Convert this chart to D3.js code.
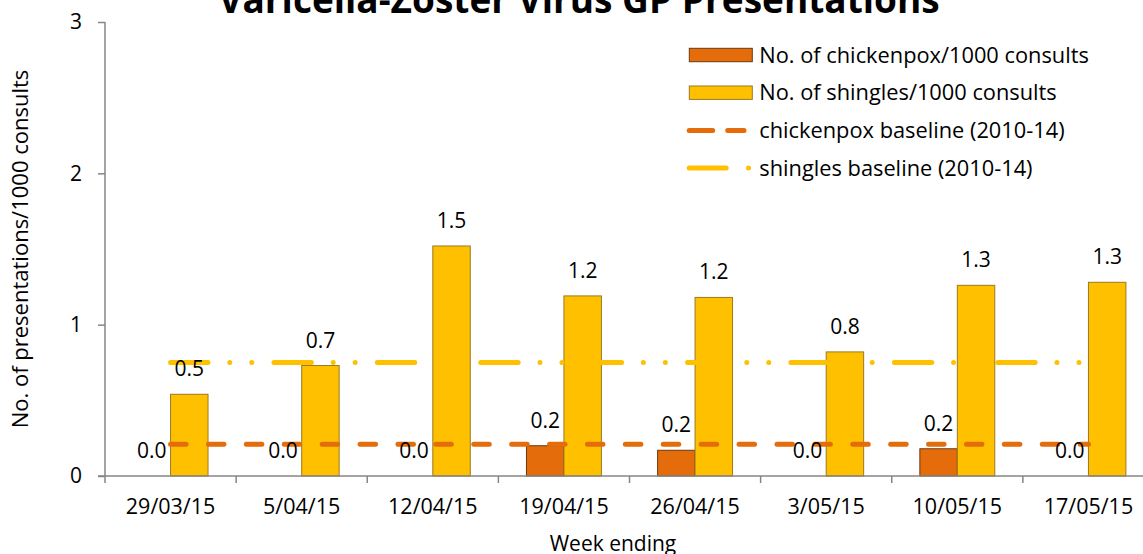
<!DOCTYPE html>
<html><head><meta charset="utf-8">
<script src="https://cdn.jsdelivr.net/npm/d3@7"></script>
<style>
html,body{margin:0;padding:0;background:#fff;overflow:hidden;}
svg{display:block;font-family:"Open Sans",sans-serif;}
</style></head>
<body>
<svg id="chart" width="1143" height="554"></svg>
<script>
const weeks = ["29/03/15","5/04/15","12/04/15","19/04/15","26/04/15","3/05/15","10/05/15","17/05/15"];
const chickenpox = [0, 0, 0, 0.2, 0.17, 0, 0.18, 0];
const shingles = [0.54, 0.73, 1.52, 1.19, 1.18, 0.82, 1.26, 1.28];
const chickenpoxBaseline = [0.21, 0.21, 0.21, 0.21, 0.21, 0.21, 0.21, 0.21];
const shinglesBaseline = [0.75, 0.75, 0.75, 0.75, 0.75, 0.75, 0.75, 0.75];
const yTicks = [0, 1, 2, 3];
const title = "Varicella-Zoster Virus GP Presentations";
const yTitle = "No. of presentations/1000 consults";
const xTitle = "Week ending";
const legendItems = ["No. of chickenpox/1000 consults","No. of shingles/1000 consults","chickenpox baseline (2010-14)","shingles baseline (2010-14)"];

const C_ORANGE = "#E46C0A", C_YELLOW = "#FFC000", AXIS = "#868686";
const svg = d3.select("#chart");

const x = d3.scaleBand().domain(weeks).range([105, 1154]).paddingInner(0).paddingOuter(0);
const y = d3.scaleLinear().domain([0, 3]).range([476, 22]);
const step = x.step();
const bw = step / 3.5;
const cx = d => x(d) + step / 2;

// title
svg.append("text").attr("x", 579).attr("y", 13).attr("text-anchor", "middle")
  .attr("font-weight", "bold").attr("font-size", 37).attr("fill", "#000").text(title);

// y axis
const yAxis = svg.append("g").attr("transform", "translate(105,0)")
  .call(d3.axisLeft(y).tickValues(yTicks).tickFormat(d3.format("d")).tickSize(7).tickPadding(16));
yAxis.select(".domain").attr("stroke", AXIS).attr("stroke-width", 1.5).attr("d", `M0,${y(3)}V${y(0)}`);
yAxis.selectAll(".tick line").attr("stroke", AXIS).attr("stroke-width", 1.5);
yAxis.selectAll(".tick text").attr("font-size", 21).attr("fill", "#000").attr("font-family", "Open Sans");

// bars
svg.append("g").selectAll("rect").data(weeks).join("rect")
  .attr("x", d => cx(d) - bw).attr("width", bw)
  .attr("y", (d, i) => y(chickenpox[i])).attr("height", (d, i) => y(0) - y(chickenpox[i]))
  .attr("fill", C_ORANGE).attr("stroke", "#6b3a10").attr("stroke-width", 1);
svg.append("g").selectAll("rect").data(weeks).join("rect")
  .attr("x", d => cx(d)).attr("width", bw)
  .attr("y", (d, i) => y(shingles[i])).attr("height", (d, i) => y(0) - y(shingles[i]))
  .attr("fill", C_YELLOW).attr("stroke", "#9a7a20").attr("stroke-width", 1);

// baselines
const line = d3.line().x(d => d[0]).y(d => y(d[1]));
svg.append("path").datum(weeks.map((w, i) => [cx(w), shinglesBaseline[i]]))
  .attr("d", line).attr("fill", "none").attr("stroke", C_YELLOW).attr("stroke-width", 5)
  .attr("stroke-linecap", "round").attr("stroke-dasharray", "37.4,21.8,0,22,0,22.2");
svg.append("path").datum(weeks.map((w, i) => [cx(w), chickenpoxBaseline[i]]))
  .attr("d", line).attr("fill", "none").attr("stroke", C_ORANGE).attr("stroke-width", 5)
  .attr("stroke-linecap", "round").attr("stroke-dasharray", "15.5,22.4");

// x axis
const xAxisG = svg.append("g").attr("transform", `translate(0,${y(0)})`);
xAxisG.append("line").attr("x1", 98).attr("x2", 1154).attr("y1", 0).attr("y2", 0)
  .attr("stroke", AXIS).attr("stroke-width", 1.5);
const bounds = weeks.map(w => x(w)).concat([x(weeks[weeks.length - 1]) + step]);
xAxisG.selectAll("line.tk").data(bounds).join("line").attr("class", "tk")
  .attr("x1", d => d).attr("x2", d => d).attr("y1", 0).attr("y2", 7)
  .attr("stroke", AXIS).attr("stroke-width", 1.5);
const xa = svg.append("g").attr("transform", `translate(0,${y(0)})`)
  .call(d3.axisBottom(x).tickSize(0).tickPadding(23));
xa.select(".domain").remove();
xa.selectAll(".tick text").attr("font-size", 21.5).attr("fill", "#000").attr("font-family", "Open Sans");

// data labels
svg.append("g").selectAll("text").data(weeks).join("text")
  .attr("x", d => cx(d) - bw / 2).attr("y", (d, i) => y(chickenpox[i]) - 18)
  .attr("text-anchor", "middle").attr("font-size", 21).attr("fill", "#000")
  .text((d, i) => chickenpox[i].toFixed(1));
svg.append("g").selectAll("text").data(weeks).join("text")
  .attr("x", d => cx(d) + bw / 2).attr("y", (d, i) => y(shingles[i]) - 18)
  .attr("text-anchor", "middle").attr("font-size", 21).attr("fill", "#000")
  .text((d, i) => shingles[i].toFixed(1));

// axis titles
svg.append("text").attr("transform", "translate(28,249) rotate(-90)").attr("text-anchor", "middle")
  .attr("font-size", 22).attr("fill", "#000").text(yTitle);
svg.append("text").attr("x", 613).attr("y", 551).attr("text-anchor", "middle")
  .attr("font-size", 21).attr("fill", "#000").text(xTitle);

// legend
const lg = svg.append("g");
const rowsY = [55, 92.7, 130.4, 168.1];
lg.append("rect").attr("x", 689.3).attr("y", rowsY[0] - 6.7).attr("width", 63).attr("height", 13.4)
  .attr("fill", C_ORANGE).attr("stroke", "#6b3a10").attr("stroke-width", 1);
lg.append("rect").attr("x", 689.3).attr("y", rowsY[1] - 6.7).attr("width", 63).attr("height", 13.4)
  .attr("fill", C_YELLOW).attr("stroke", "#9a7a20").attr("stroke-width", 1);
lg.append("line").attr("x1", 689.2).attr("x2", 744).attr("y1", rowsY[2]).attr("y2", rowsY[2])
  .attr("stroke", C_ORANGE).attr("stroke-width", 5).attr("stroke-linecap", "round").attr("stroke-dasharray", "23.5,15");
lg.append("line").attr("x1", 689.2).attr("x2", 749).attr("y1", rowsY[3]).attr("y2", rowsY[3])
  .attr("stroke", C_YELLOW).attr("stroke-width", 5).attr("stroke-linecap", "round").attr("stroke-dasharray", "37,22.3,0,30");
lg.selectAll("text").data(legendItems).join("text")
  .attr("x", 759.3).attr("y", (d, i) => rowsY[i]).attr("dy", "0.35em")
  .attr("font-size", 21.8).attr("fill", "#000").text(d => d);
</script>
</body></html>
